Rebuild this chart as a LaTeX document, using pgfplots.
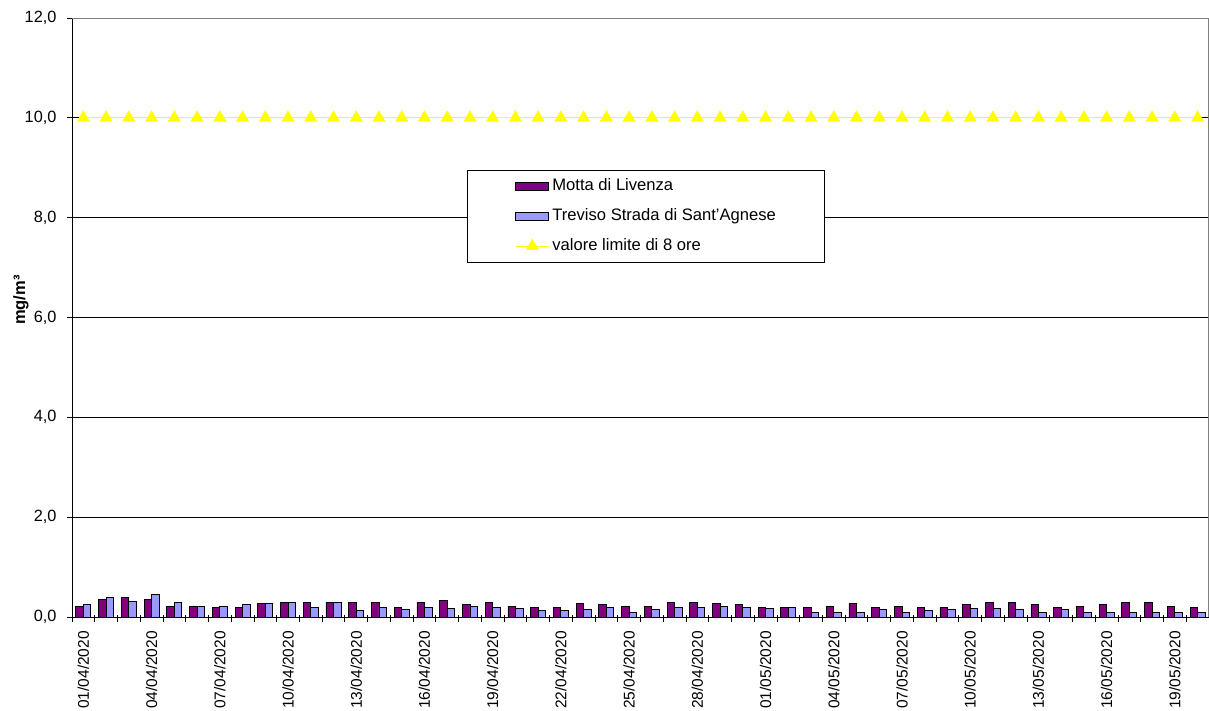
\documentclass[border=0pt]{standalone}
\usepackage{pgfplots}
\pgfplotsset{compat=1.18}
\usepackage{pgfplotstable}
\usepackage{fontspec}
\setmainfont{Liberation Sans}
\definecolor{mpurple}{HTML}{800080}
\definecolor{mblue}{HTML}{9999FF}
\definecolor{myellow}{HTML}{FFFF00}
\pgfplotstableread{
x P B L
0 0.22 0.25 10
1 0.35 0.39 10
2 0.39 0.32 10
3 0.35 0.45 10
4 0.22 0.30 10
5 0.22 0.22 10
6 0.19 0.22 10
7 0.19 0.25 10
8 0.27 0.27 10
9 0.30 0.30 10
10 0.30 0.19 10
11 0.30 0.30 10
12 0.30 0.13 10
13 0.30 0.19 10
14 0.19 0.15 10
15 0.30 0.19 10
16 0.33 0.17 10
17 0.25 0.22 10
18 0.30 0.19 10
19 0.22 0.17 10
20 0.19 0.13 10
21 0.19 0.13 10
22 0.27 0.15 10
23 0.25 0.19 10
24 0.22 0.09 10
25 0.22 0.15 10
26 0.29 0.19 10
27 0.29 0.19 10
28 0.27 0.22 10
29 0.25 0.19 10
30 0.19 0.17 10
31 0.19 0.19 10
32 0.19 0.09 10
33 0.22 0.09 10
34 0.27 0.09 10
35 0.19 0.15 10
36 0.22 0.09 10
37 0.19 0.13 10
38 0.19 0.15 10
39 0.25 0.17 10
40 0.29 0.17 10
41 0.29 0.15 10
42 0.25 0.09 10
43 0.19 0.15 10
44 0.22 0.09 10
45 0.25 0.09 10
46 0.29 0.09 10
47 0.29 0.09 10
48 0.22 0.09 10
49 0.19 0.09 10
}\data
\begin{document}
\begin{tikzpicture}
\useasboundingbox (-72pt,-94pt) rectangle (1137pt,617pt);
\begin{axis}[
  scale only axis, width=1137pt, height=599pt,
  xmin=-0.5, xmax=49.5, ymin=0, ymax=12,
  axis x line*=bottom, axis y line*=left,
  axis line style={black, line width=0.9pt},
  ytick={0,2,...,12},
  ymajorgrids, grid style={black, line width=0.8pt},
  yticklabel style={xshift=-7pt, /pgf/number format/.cd, fixed, fixed zerofill, precision=1, use comma, assume math mode=true},
  tick align=outside, major tick length=5pt, minor tick length=7pt,
  tick style={black, line width=0.8pt},
  ticklabel style={font=\fontsize{16.3}{19}\selectfont},
  xtick={0,3,...,48},
  xticklabels={01/04/2020,04/04/2020,07/04/2020,10/04/2020,13/04/2020,16/04/2020,19/04/2020,22/04/2020,25/04/2020,28/04/2020,01/05/2020,04/05/2020,07/05/2020,10/05/2020,13/05/2020,16/05/2020,19/05/2020},
  major x tick style={draw=none},
  minor xtick={-0.5,0.5,...,49.5},
  minor x tick style={black, line width=0.8pt, yshift=2pt},
  xticklabel style={rotate=90, anchor=east, inner sep=0pt, xshift=-9pt, font=\fontsize{15.5}{18}\selectfont},
  ylabel={mg/m³},
  ylabel style={at={(axis description cs:-0.0449,0.529)}, anchor=center, font=\bfseries\fontsize{16.5}{19}\selectfont},
  legend style={at={(0.3474,0.7462)}, anchor=north west, draw=black, line width=0.8pt,
    inner xsep=48pt, inner ysep=8pt, row sep=14.5pt, column sep=3pt,
    font=\fontsize{16.6}{19}\selectfont,
    nodes={inner sep=0pt, text height=12pt, text depth=3.5pt}},
  legend cell align=left,
]
\addplot[ybar, bar width=7.5pt, bar shift=-3.75pt, fill=mpurple, draw=black, line width=0.8pt,
  legend image code/.code={\draw[fill=mpurple, draw=black, line width=0.8pt] (0pt,-4pt) rectangle (33pt,4pt);}]
  table[x=x, y=P] {\data};
\addlegendentry{Motta di Livenza}
\addplot[ybar, bar width=7.5pt, bar shift=3.75pt, fill=mblue, draw=black, line width=0.8pt,
  legend image code/.code={\draw[fill=mblue, draw=black, line width=0.8pt] (0pt,-4pt) rectangle (33pt,4pt);}]
  table[x=x, y=B] {\data};
\addlegendentry{Treviso Strada di Sant'Agnese}
\addplot[myellow, line width=1pt, mark=triangle*, mark size=6.5pt, mark options={fill=myellow, draw=myellow},
  legend image code/.code={\draw[myellow, line width=1pt] (0pt,0pt) -- (33pt,0pt); \fill[myellow] (16.5pt,0pt) +(90:6.5pt) -- +(210:6.5pt) -- +(330:6.5pt) -- cycle;}]
  table[x=x, y=L] {\data};
\addlegendentry{valore limite di 8 ore}
\draw[gray, line width=0.9pt] (rel axis cs:0,1) -- (rel axis cs:1,1) -- (rel axis cs:1,0);
\end{axis}
\end{tikzpicture}
\end{document}
